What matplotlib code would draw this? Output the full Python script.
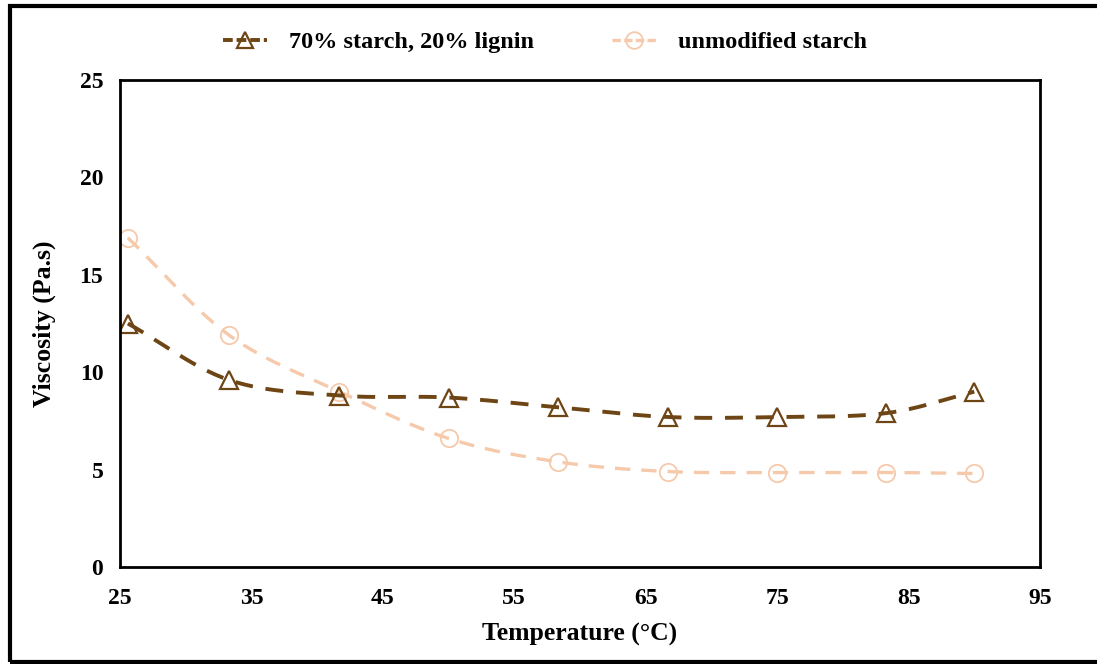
import numpy as np
import matplotlib.pyplot as plt
from matplotlib.patches import Rectangle

temperature = [25.6, 33.3, 41.7, 50.0, 58.3, 66.7, 75.0, 83.3, 90.0]
lignin_blend = [12.5, 9.6, 8.8, 8.7, 8.2, 7.7, 7.7, 7.9, 9.0]
unmodified = [16.9, 11.9, 9.0, 6.6, 5.4, 4.9, 4.85, 4.85, 4.8]

x_ticks = [25, 35, 45, 55, 65, 75, 85, 95]
y_ticks = [0, 5, 10, 15, 20, 25]


def smooth(xs, ys, n=30):
    # catmull-rom curve through the points, like excel's smoothed line
    p = np.column_stack([xs, ys]).astype(float)
    p = np.vstack([2 * p[0] - p[1], p, 2 * p[-1] - p[-2]])
    out = []
    t = np.linspace(0, 1, n)[:, None]
    for i in range(1, len(p) - 2):
        p0, p1, p2, p3 = p[i - 1], p[i], p[i + 1], p[i + 2]
        seg = 0.5 * ((2 * p1) + (-p0 + p2) * t + (2 * p0 - 5 * p1 + 4 * p2 - p3) * t ** 2
                     + (-p0 + 3 * p1 - 3 * p2 + p3) * t ** 3)
        out.append(seg if i == 1 else seg[1:])
    out = np.vstack(out)
    return out[:, 0], out[:, 1]


plt.rcParams['font.family'] = ['Liberation Serif', 'DejaVu Serif']
plt.rcParams['font.weight'] = 'bold'

fig = plt.figure(figsize=(10.97, 6.64), dpi=100)
ax = fig.add_axes([120 / 1097, 1 - 567 / 664, 920 / 1097, 487 / 664])

dark = '#6e4514'
light = '#f5c9aa'
dash = (4.6, 3.3)

sx, sy = smooth(temperature, unmodified)
ax.plot(sx, sy, color=light, lw=2.4, dashes=dash)
ax.plot(temperature, unmodified, ls='none', marker='o', ms=12.5, mfc='none', mec=light, mew=1.3)
sx, sy = smooth(temperature, lignin_blend)
ax.plot(sx, sy, color=dark, lw=2.8, dashes=dash)
ax.plot(temperature, lignin_blend, ls='none', marker='^', ms=12.5, mfc='none', mec=dark, mew=1.6)

ax.plot([], [], color=dark, lw=2.8, dashes=(2.5, 1), marker='^', ms=12, mfc='none', mec=dark,
        mew=1.6, label='70% starch, 20% lignin')
ax.plot([], [], color=light, lw=2.4, dashes=(2.5, 1), marker='o', ms=12, mfc='none', mec=light,
        mew=1.3, label='unmodified starch')

ax.set_xlim(25, 95)
ax.set_ylim(0, 25)
ax.set_xticks(x_ticks)
ax.set_yticks(y_ticks)
ax.tick_params(axis='x', length=0, labelsize=17, pad=15)
ax.tick_params(axis='y', length=0, labelsize=17, pad=12)
for s in ax.spines.values():
    s.set_linewidth(2)
ax.set_xlabel('Temperature (°C)', fontsize=18.5, fontweight='bold', labelpad=10)
ax.set_ylabel('Viscosity (Pa.s)', fontsize=18.5, fontweight='bold', labelpad=17)

fig.legend(loc='center', bbox_to_anchor=(545 / 1097, 1 - 42 / 664), ncol=2, frameon=False,
           fontsize=17.5, handlelength=1.8, columnspacing=3.2, handletextpad=0.9)

fig.patches.append(Rectangle((10 / 1097, 2 / 664), 1.2, 1 - 8 / 664, transform=fig.transFigure,
                             fill=False, lw=3, ec='black'))

fig.savefig('out.png', dpi=100)
